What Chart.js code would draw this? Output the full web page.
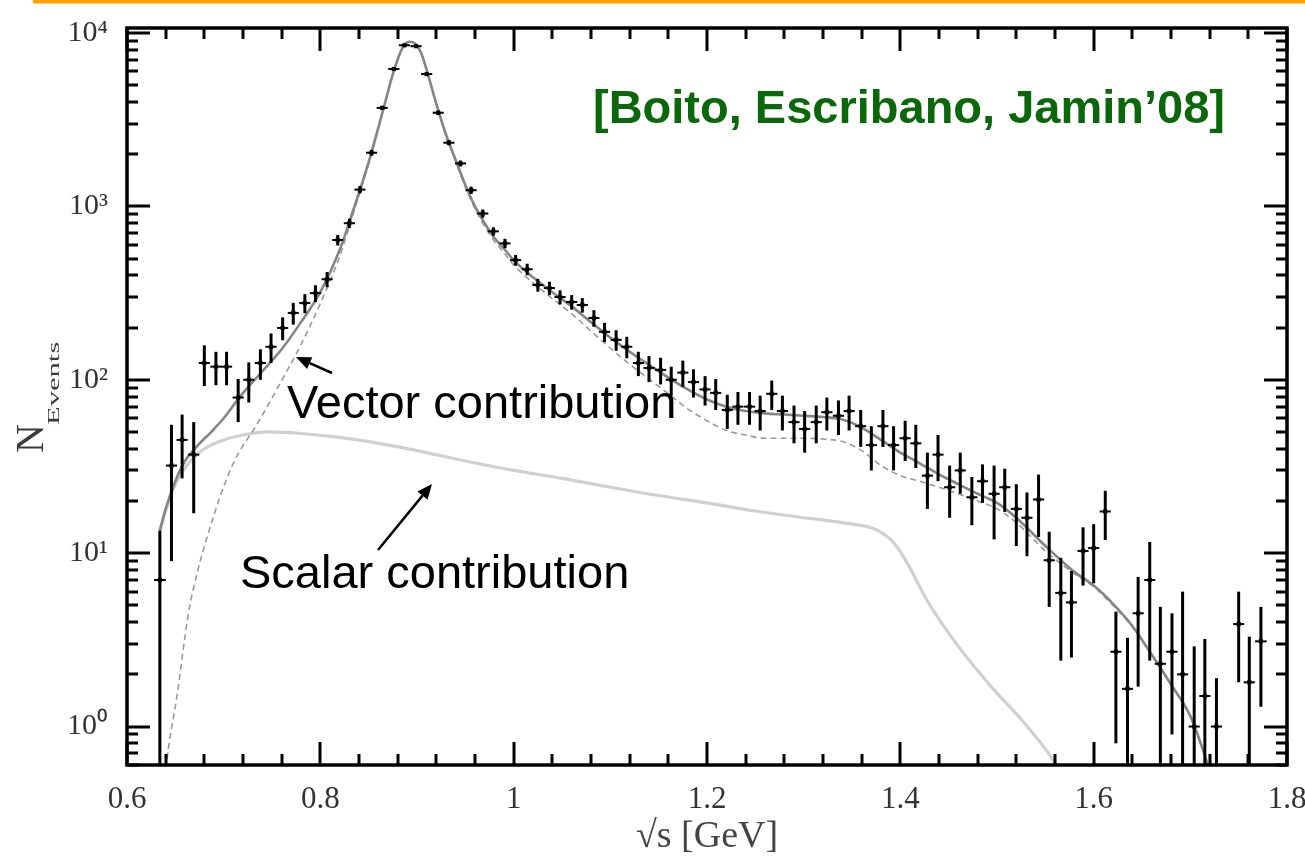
<!DOCTYPE html>
<html>
<head>
<meta charset="utf-8">
<script src="https://cdn.jsdelivr.net/npm/chart.js@4.4.1/dist/chart.umd.min.js"></script>
<style>
html,body{margin:0;padding:0;background:#fff;}
#wrap{position:relative;width:1305px;height:861px;}
canvas{display:block;}
</style>
</head>
<body>
<div id="wrap"><canvas id="c" width="1305" height="861"></canvas></div>
<script>
// ---------------- data ----------------
const binCenters = [0.634,0.646,0.657,0.669,0.680,0.692,0.703,0.715,0.726,0.738,
  0.749,0.761,0.772,0.784,0.795,0.807,0.818,0.830,0.841,0.853,
  0.864,0.876,0.887,0.899,0.910,0.922,0.933,0.945,0.956,0.968,
  0.979,0.991,1.002,1.014,1.025,1.037,1.048,1.060,1.071,1.083,
  1.094,1.106,1.117,1.129,1.140,1.152,1.163,1.175,1.186,1.198,
  1.209,1.221,1.232,1.244,1.255,1.267,1.278,1.290,1.301,1.313,
  1.324,1.336,1.347,1.359,1.370,1.382,1.393,1.405,1.416,1.428,
  1.439,1.451,1.462,1.474,1.485,1.497,1.508,1.520,1.531,1.543,
  1.554,1.566,1.577,1.589,1.600,1.612,1.623,1.635,1.646,1.658,
  1.669,1.681,1.692,1.704,1.715,1.727,1.738,1.750,1.761,1.773];
const eventCounts = [7,32,45,37,125,119,119,79,100,125,
  155,199,243,277,316,380,640,800,1250,2040,
  3700,6200,8500,8400,5800,3470,2330,1770,1240,910,
  718,612,490,434,352,338,300,281,270,227,
  189,170,155,125,117,114,100,110,97,88,
  84,67,70,70,66,83,66,57,52,57,
  65,62,66,54,42,54,42,46,43,28,
  37,24,30,21,26,22,24,18,16,20.4,
  9.1,5.9,5.2,10.3,10.7,17.4,2.7,1.65,4.5,7.0,
  2.3,2.7,2.0,1.0,1.5,1.0,null,3.9,1.8,3.1];
const eventErrors = [6.5,23,18,20,33,26,26,22,26,25,
  30,30,35,35,35,38,45,50,60,80,
  100,130,150,150,120,100,80,70,60,50,
  40,38,35,33,30,30,28,27,26,25,
  24,23,22,20,20,20,19,19,18,17,
  17,15,15,15,15,16,15,14,14,14,
  14,14,15,13,12,13,12,12,12,10,
  11,8,8,6.5,6.5,10,6.7,7,6.4,8,
  4.2,3.5,2.7,3.8,4,5.5,1.9,1.6,2.8,4.6,
  2.6,1.8,4,1.9,1.7,0.9,0,2.1,1.5,1.8];

const totalX   = [0.634,0.64,0.65,0.66,0.67,0.69,0.70,0.717,0.74,0.76,0.78,0.80,0.82,0.834,0.85,0.865,0.875,0.885,0.892,0.898,0.905,0.912,0.92,0.93,0.94,0.95,0.96,0.97,0.98,0.99,1.00,1.02,1.04,1.06,1.08,1.10,1.12,1.14,1.16,1.18,1.20,1.22,1.24,1.26,1.28,1.30,1.32,1.34,1.36,1.38,1.40,1.42,1.44,1.46,1.48,1.50,1.52,1.55,1.58,1.60,1.62,1.64,1.66,1.68,1.70,1.715,1.72];
const totalFit = [13.5,18,26,34,40,52,60,80,112,150,215,320,560,950,1800,3600,5800,8200,8900,8700,7500,5600,3900,2600,1850,1330,1000,800,660,570,490,390,320,265,215,175,145,122,103,88,77,70,66,64,63,62,61,59,53,45,38,33,28.5,25,22,19.5,16,11,7.8,6.5,5.1,3.8,2.6,1.75,1.15,0.68,0.55];

const vectorX   = [0.6395,0.6414,0.6517,0.663,0.668,0.689,0.71,0.735,0.755,0.78,0.80,0.82,0.834,0.85,0.865,0.875,0.885,0.892,0.898,0.905,0.912,0.92,0.93,0.94,0.95,0.96,0.97,0.98,0.99,1.00,1.02,1.04,1.06,1.08,1.10,1.12,1.14,1.16,1.18,1.20,1.22,1.24,1.26,1.28,1.30,1.32,1.34,1.36,1.38,1.40,1.42,1.44,1.46,1.48,1.50,1.52,1.55,1.58,1.60,1.62,1.64,1.66,1.68,1.70,1.715,1.72];
const vectorFit = [0.5,0.65,1.5,4.3,6,16,33,56,88,160,275,515,905,1760,3560,5760,8160,8860,8660,7460,5560,3860,2560,1815,1295,968,768,630,540,460,362,294,240,191,152,123,101,83,68,58,51,48,46,46,46,45.5,44,39,32,28,26,24,22,20,18,15,10.3,7.6,6.4,5.0,3.75,2.58,1.74,1.14,0.68,0.55];

const scalarX   = [0.634,0.64,0.65,0.66,0.67,0.68,0.70,0.72,0.745,0.78,0.82,0.86,0.90,0.95,1.00,1.05,1.10,1.15,1.20,1.25,1.30,1.34,1.37,1.38,1.39,1.40,1.41,1.428,1.46,1.496,1.527,1.555,1.565];
const scalarFit = [13.5,17.5,25,31,36,40,45,48,50,49,46.5,43,39,34,30,27,24,21.5,19.5,17.5,16,15,14,13.2,12,10.2,8.2,5.3,2.9,1.65,1.07,0.68,0.55];

const xTickValues = [0.6,0.8,1.0,1.2,1.4,1.6,1.8];
const xTickLabels = ['0.6','0.8','1','1.2','1.4','1.6','1.8'];
const yTickValues = [1,10,100,1000,10000];
const yTickLabels = ['10\u2070','10\u00B9','10\u00B2','10\u00B3','10\u2074'];

// ---------------- drawing helpers ----------------
const SERIF = '"Liberation Serif","Times New Roman",serif';
const SANS = '"Liberation Sans",Arial,sans-serif';

function arrow(c, x1, y1, x2, y2){
  const ang = Math.atan2(y2-y1, x2-x1);
  const hl = 15, hw = 6.5;
  const bx = x2 - hl*Math.cos(ang), by = y2 - hl*Math.sin(ang);
  c.beginPath(); c.moveTo(x1,y1); c.lineTo(bx,by); c.stroke();
  c.beginPath();
  c.moveTo(x2,y2);
  c.lineTo(bx + hw*Math.sin(ang), by - hw*Math.cos(ang));
  c.lineTo(bx - hw*Math.sin(ang), by + hw*Math.cos(ang));
  c.closePath(); c.fill();
}

const decor = {
  id: 'decor',
  beforeDraw(chart){
    const c = chart.ctx;
    c.save();
    c.fillStyle = '#ffffff'; c.fillRect(0,0,chart.width,chart.height);
    c.fillStyle = '#ffa000'; c.fillRect(33,0,chart.width-33,3.5);
    c.restore();
  },
  afterDatasetsDraw(chart){
    const xs = chart.scales.x, ys = chart.scales.y, a = chart.chartArea, c = chart.ctx;
    c.save();
    c.beginPath(); c.rect(a.left, a.top, a.right-a.left, a.bottom-a.top); c.clip();
    c.strokeStyle = '#000';
    for (let i = 0; i < binCenters.length; i++){
      const v = eventCounts[i];
      if (v == null) continue;
      const e = eventErrors[i];
      const px = xs.getPixelForValue(binCenters[i]);
      const yTop = ys.getPixelForValue(v + e);
      const lo = v - e;
      const yBot = lo > 0.05 ? ys.getPixelForValue(lo) : a.bottom + 10;
      c.lineWidth = 3;
      c.beginPath(); c.moveTo(px, yTop); c.lineTo(px, yBot); c.stroke();
      const prev = binCenters[Math.max(i-1,0)], next = binCenters[Math.min(i+1,binCenters.length-1)];
      const half = (next - prev) / (i===0||i===binCenters.length-1 ? 2 : 4);
      const py = ys.getPixelForValue(v);
      c.lineWidth = 2;
      c.beginPath();
      c.moveTo(xs.getPixelForValue(binCenters[i]-half), py);
      c.lineTo(xs.getPixelForValue(binCenters[i]+half), py);
      c.stroke();
    }
    c.restore();
  },
  afterDraw(chart){
    const xs = chart.scales.x, ys = chart.scales.y, a = chart.chartArea, c = chart.ctx;
    c.save();
    c.strokeStyle = '#000';
    // ticks (inward, on all four sides)
    c.lineWidth = 3;
    c.beginPath();
    for (let d = -1; d <= 4; d++){
      for (let m = 1; m <= 9; m++){
        const v = m * Math.pow(10, d);
        if (v < ys.min || v > ys.max) continue;
        const py = Math.round(ys.getPixelForValue(v));
        const len = m === 1 ? 23 : 11;
        c.moveTo(a.left, py); c.lineTo(a.left + len, py);
        c.moveTo(a.right, py); c.lineTo(a.right - len, py);
      }
    }
    for (let k = 0; k <= 30; k++){
      const v = 0.6 + 0.04 * k;
      const px = Math.round(xs.getPixelForValue(v));
      const len = k % 5 === 0 ? 23 : 11;
      c.moveTo(px, a.bottom); c.lineTo(px, a.bottom - len);
      c.moveTo(px, a.top); c.lineTo(px, a.top + len);
    }
    c.stroke();
    // frame
    c.lineWidth = 3.5;
    c.strokeRect(a.left, a.top, a.right - a.left, a.bottom - a.top);

    // y-axis title N_Events (rotated)
    c.save();
    c.translate(45, 397);
    c.rotate(-Math.PI/2);
    c.fillStyle = '#3a3a3a';
    c.textBaseline = 'alphabetic';
    c.textAlign = 'left';
    c.font = '40px ' + SERIF;
    c.fillText('N', -56, -2);
    c.save();
    c.scale(1.8, 1);
    c.font = '17px ' + SERIF;
    c.fillText('Events', -28/1.8, 14);
    c.restore();
    c.restore();

    // annotations
    c.fillStyle = '#0a680a';
    c.font = 'bold 47px ' + SANS;
    c.textAlign = 'left'; c.textBaseline = 'alphabetic';
    c.fillText('[Boito, Escribano, Jamin\u201908]', 593, 123);
    c.fillStyle = '#000';
    c.font = '47px ' + SANS;
    c.fillText('Vector contribution', 287, 418);
    c.fillText('Scalar contribution', 240, 588);
    c.lineWidth = 2.5; c.strokeStyle = '#000'; c.fillStyle = '#000';
    arrow(c, 332, 373, 296, 357);
    arrow(c, 378, 550, 432, 484);
    c.restore();
  }
};

const pts = (xsArr, ysArr) => xsArr.map((x, i) => ({x: x, y: ysArr[i]}));

new Chart(document.getElementById('c').getContext('2d'), {
  type: 'scatter',
  data: {
    datasets: [
      { label: 'Belle data', data: pts(binCenters, eventCounts), showLine: false,
        pointStyle: 'rect', pointRadius: 3, pointHoverRadius: 3,
        backgroundColor: '#111', borderColor: '#111', borderWidth: 0 },
      { label: 'Total', type: 'line', data: pts(totalX, totalFit), borderColor: '#858585',
        borderWidth: 2.6, pointRadius: 0, fill: false, cubicInterpolationMode: 'monotone' },
      { label: 'Vector', type: 'line', data: pts(vectorX, vectorFit), borderColor: '#9a9a9a',
        borderWidth: 1.6, borderDash: [6,4], pointRadius: 0, fill: false, cubicInterpolationMode: 'monotone' },
      { label: 'Scalar', type: 'line', data: pts(scalarX, scalarFit), borderColor: '#d0d0d0',
        borderWidth: 3.2, pointRadius: 0, fill: false, cubicInterpolationMode: 'monotone' }
    ]
  },
  options: {
    responsive: false,
    animation: false,
    devicePixelRatio: 1,
    layout: { padding: { left: 0, top: 28, right: 18, bottom: 0 } },
    plugins: { legend: { display: false }, tooltip: { enabled: false } },
    scales: {
      x: {
        type: 'linear', min: 0.6, max: 1.8,
        afterFit(s){ s.height = 96; s.paddingLeft = 0; s.paddingRight = 0; },
        afterBuildTicks(s){ s.ticks = xTickValues.map(v => ({value: v})); },
        ticks: { callback: (v, i) => xTickLabels[i], font: { family: SERIF, size: 31 },
                 color: '#333', padding: 8, maxRotation: 0, autoSkip: false },
        grid: { display: false }, border: { display: false },
        title: { display: true, text: '\u221As [GeV]', font: { family: SERIF, size: 38 },
                 color: '#444', padding: { top: 0, bottom: 1 } }
      },
      y: {
        type: 'logarithmic', min: 0.61, max: 10690,
        afterFit(s){ s.width = 127; s.paddingTop = 0; s.paddingBottom = 0; },
        afterBuildTicks(s){ s.ticks = yTickValues.map(v => ({value: v})); },
        ticks: { callback: (v, i) => yTickLabels[i], font: { family: SERIF, size: 30 },
                 color: '#333', padding: 11, autoSkip: false },
        grid: { display: false }, border: { display: false },
        title: { display: false }
      }
    }
  },
  plugins: [decor]
});
</script>
</body>
</html>
